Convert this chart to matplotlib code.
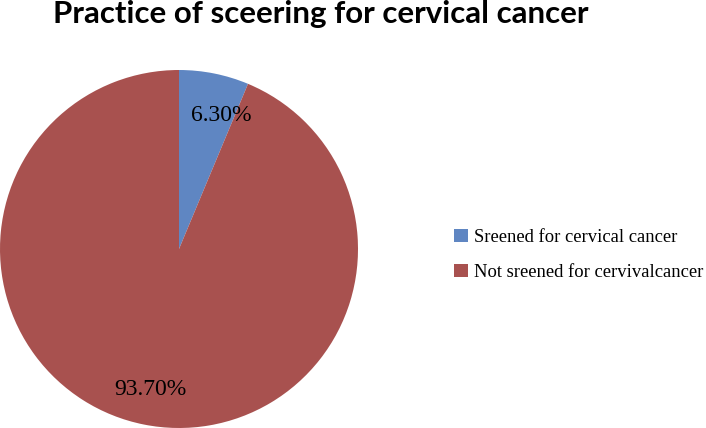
import matplotlib
matplotlib.use('Agg')
import matplotlib.pyplot as plt
import numpy as np

categories = ['Sreened for cervical cancer', 'Not sreened for cervivalcancer']
values = [6.3, 93.7]
pct_labels = ['6.30%', '93.70%']
colors = ['#5F86C2', '#A8514F']

fig = plt.figure(figsize=(7.06, 4.28), dpi=100)

# pie area, left part of the figure
ax = fig.add_axes([0.0, 0.0, 358 / 706, 358 / 428])
wedges, texts = ax.pie(values, colors=colors, startangle=90, counterclock=False,
                       labels=pct_labels, labeldistance=0.8,
                       textprops=dict(family='Liberation Serif', fontsize=17, color='black'))
for t in texts:
    t.set_ha('center')
    t.set_va('center')
# small slice label sits a bit lower / further right in the original
a = np.deg2rad(72.5)
texts[0].set_position((0.78 * np.cos(a), 0.78 * np.sin(a)))
ax.set_xlim(-1, 1)
ax.set_ylim(-1, 1)
ax.set_aspect('equal')

fig.text(0.454, 0.946, 'Practice of sceering for cervical cancer', ha='center', va='baseline',
         fontsize=22.5, fontweight='bold', family='Lato')

fig.legend(wedges, categories, loc='center left', bbox_to_anchor=(0.62, 0.405),
           frameon=False, prop=dict(family='Liberation Serif', size=13.4),
           handlelength=0.75, handleheight=0.75, handletextpad=0.3, labelspacing=0.95)

fig.savefig('out.png', dpi=100)
